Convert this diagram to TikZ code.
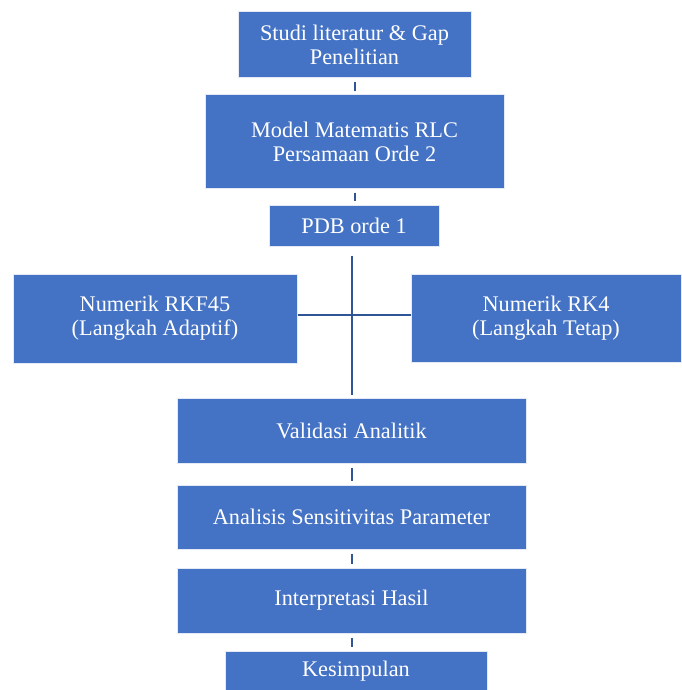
\documentclass[tikz,border=0pt]{standalone}
\usepackage{fontspec}
\setmainfont{Liberation Serif}
\usepackage{xcolor}
\usepackage{tikz}
\usetikzlibrary{calc}

\definecolor{boxblue}{HTML}{4472C4}
\definecolor{linkblue}{HTML}{2F5597}

\begin{document}
\begin{tikzpicture}[x=1pt,y=-1pt,
    box/.style={rectangle,fill=boxblue,draw=white!85!boxblue,line width=1pt,
      text=white,align=center,inner sep=0pt,
      font=\fontsize{22.3}{24}\selectfont},
    link/.style={draw=linkblue,line width=2pt}]
  \useasboundingbox[fill=white] (0,0) rectangle (681,690);

  % main chain
  \node[box,minimum width=233pt,minimum height=66pt] (studi) at (354.5,45)
    {Studi literatur \& Gap\\ Penelitian};
  \node[box,minimum width=299pt,minimum height=93pt] (model) at (354.5,141.5)
    {Model Matematis RLC\\ Persamaan Orde 2};
  \node[box,minimum width=170pt,minimum height=41pt] (pdb) at (354,225.5)
    {PDB orde 1};

  % the two solvers
  \node[box,minimum width=284pt,minimum height=89pt] (rkf) at (155,318.5)
    {Numerik RKF45\\ (Langkah Adaptif)};
  \node[box,minimum width=270pt,minimum height=88pt] (rk4) at (546,318)
    {Numerik RK4\\ (Langkah Tetap)};

  \node[box,minimum width=349pt,minimum height=65pt] (valid) at (351.5,430.5)
    {Validasi Analitik};
  \node[box,minimum width=349pt,minimum height=64pt] (anal) at (351.5,517)
    {Analisis Sensitivitas Parameter};
  \node[box,minimum width=349pt,minimum height=65pt] (interp) at (351.5,600.5)
    {Interpretasi Hasil};
  \node[box,minimum width=262pt,minimum height=41pt] (kes) at (356,671.5)
    {Kesimpulan};

  \foreach \a/\b in {studi/model,model/pdb,valid/anal,anal/interp,interp/kes} {
    \draw[link,shorten <=4pt,shorten >=3.5pt] (\a.south) -- (\a.south |- \b.north);
  }

  \draw[link,shorten <=9pt,shorten >=3pt] (valid.north |- pdb.south) -- (valid.north);
  \draw[link] ($(rkf.east)+(0,-3.5)$) -- ($(rkf.east -| rk4.west)+(0,-3.5)$);
\end{tikzpicture}
\end{document}
